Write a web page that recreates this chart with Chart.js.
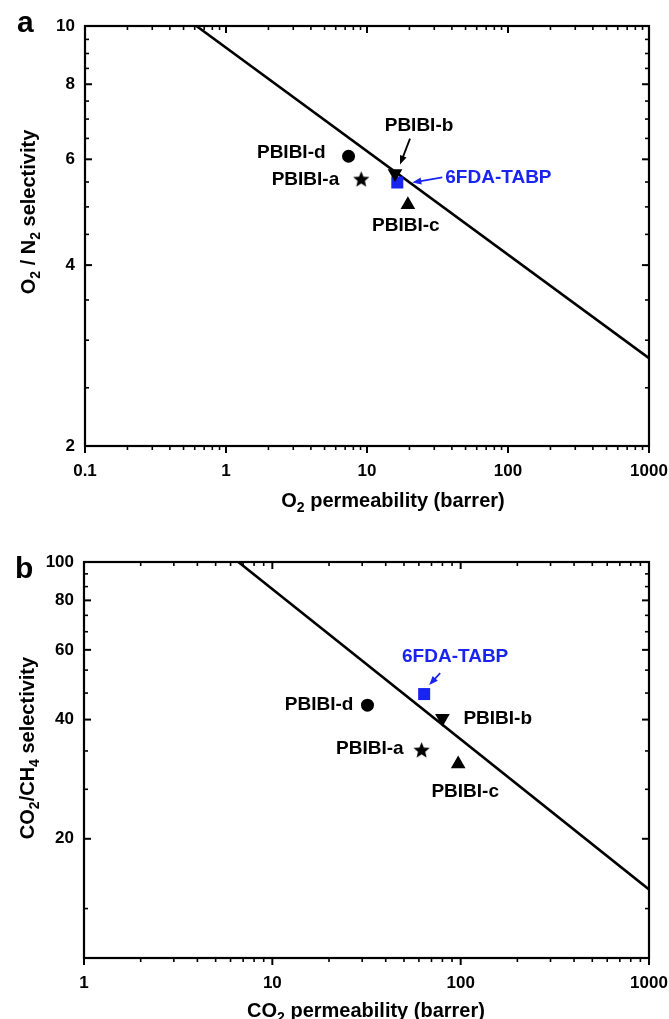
<!DOCTYPE html>
<html>
<head>
<meta charset="utf-8">
<script src="https://cdn.jsdelivr.net/npm/chart.js@4.4.0/dist/chart.umd.min.js"></script>
<style>
  html, body { margin: 0; padding: 0; background: #fff; }
  #wrap { position: relative; width: 669px; height: 1019px; }
  .panel { position: absolute; left: 0; width: 669px; }
  #panelA { top: 0; height: 515px; }
  #panelB { top: 515px; height: 504px; }
</style>
</head>
<body>
<div id="wrap">
  <div class="panel" id="panelA"><canvas id="chartA"></canvas></div>
  <div class="panel" id="panelB"><canvas id="chartB"></canvas></div>
</div>
<script>
// values
const membranes = ['PBIBI-a', 'PBIBI-b', 'PBIBI-c', 'PBIBI-d', '6FDA-TABP'];
const o2Perm    = [9.1, 15.8, 19.5, 7.4, 16.4];
const o2n2Sel   = [5.57, 5.68, 5.04, 6.07, 5.49];
const co2Perm   = [62, 80, 97, 32, 64];
const co2ch4Sel = [33.6, 40.3, 30.9, 43.5, 46.4];

// upper bound lines (end points)
const o2BoundPerm  = [0.617, 1000];
const o2BoundSel   = [10, 2.80];
const co2BoundPerm = [6.6, 1000];
const co2BoundSel  = [100, 14.9];

// axis ticks
const o2PermTicks  = [0.1, 1, 10, 100, 1000];
const o2n2Ticks    = [2, 4, 6, 8, 10];
const o2n2Minor    = [2.5, 3, 3.5, 4.5, 5, 5.5, 6.5, 7, 7.5, 8.5, 9, 9.5];
const co2PermTicks = [1, 10, 100, 1000];
const co2ch4Ticks  = [20, 40, 60, 80, 100];
const co2ch4Minor  = [13.33, 26.67, 33.33, 46.67, 53.33, 66.67, 73.33, 86.67, 93.33];

const BLUE = '#1a24f0';
const FONT = '"Liberation Sans", Arial, Helvetica, sans-serif';
Chart.defaults.font.family = FONT;

// 2..9 within each decade
function decadeMinors(majors) {
    const out = [];
    for (let i = 0; i < majors.length - 1; i++)
        for (let m = 2; m <= 9; m++) out.push(majors[i] * m);
    return out;
}

function starImage(r, color) {
    const c = document.createElement('canvas');
    const s = Math.ceil(r * 2 + 2);
    c.width = c.height = s;
    const g = c.getContext('2d');
    g.fillStyle = color;
    g.beginPath();
    for (let i = 0; i < 10; i++) {
        const rr = i % 2 ? r * 0.45 : r;
        const a = -Math.PI / 2 + i * Math.PI / 5;
        g.lineTo(s / 2 + rr * Math.cos(a), s / 2 + 1 + rr * Math.sin(a));
    }
    g.closePath();
    g.fill();
    return c;
}

const markers = {
    'PBIBI-a':   { style: starImage(8.5, '#000'), radius: 8, rot: 0, color: '#000' },
    'PBIBI-b':   { style: 'triangle', radius: 8.5, rot: 180, color: '#000' },
    'PBIBI-c':   { style: 'triangle', radius: 8.5, rot: 0, color: '#000' },
    'PBIBI-d':   { style: 'circle', radius: 6.5, rot: 0, color: '#000' },
    '6FDA-TABP': { style: 'rect', radius: 8.5, rot: 0, color: BLUE }
};

// text drawn with subscripts: [text, isSub]
function drawRich(ctx, parts, cx, cy, size, rot) {
    ctx.save();
    ctx.translate(cx, cy);
    ctx.rotate(rot || 0);
    ctx.fillStyle = '#000';
    ctx.textBaseline = 'alphabetic';
    ctx.textAlign = 'left';
    const fonts = parts.map(p => 'bold ' + (p[1] ? size * 0.7 : size) + 'px ' + FONT);
    let total = 0;
    const widths = parts.map((p, i) => { ctx.font = fonts[i]; const w = ctx.measureText(p[0]).width; total += w; return w; });
    let x = -total / 2;
    const base = size * 0.36;
    parts.forEach((p, i) => {
        ctx.font = fonts[i];
        ctx.fillText(p[0], x, p[1] ? base + size * 0.25 : base);
        x += widths[i];
    });
    ctx.restore();
}

function drawArrow(ctx, x1, y1, x2, y2, color) {
    const ang = Math.atan2(y2 - y1, x2 - x1);
    const hl = 9, hw = 3.5;
    ctx.save();
    ctx.strokeStyle = color;
    ctx.fillStyle = color;
    ctx.lineWidth = 1.8;
    ctx.beginPath();
    ctx.moveTo(x1, y1);
    ctx.lineTo(x2 - Math.cos(ang) * hl * 0.8, y2 - Math.sin(ang) * hl * 0.8);
    ctx.stroke();
    ctx.beginPath();
    ctx.moveTo(x2, y2);
    ctx.lineTo(x2 - Math.cos(ang) * hl + Math.sin(ang) * hw, y2 - Math.sin(ang) * hl - Math.cos(ang) * hw);
    ctx.lineTo(x2 - Math.cos(ang) * hl - Math.sin(ang) * hw, y2 - Math.sin(ang) * hl + Math.cos(ang) * hw);
    ctx.closePath();
    ctx.fill();
    ctx.restore();
}

const decor = {
    id: 'decor',
    afterDraw(chart, args, o) {
        const { ctx, chartArea: a, scales: { x, y } } = chart;
        ctx.save();
        ctx.strokeStyle = '#000';
        const line = (x1, y1, x2, y2, w) => {
            ctx.lineWidth = w;
            ctx.beginPath(); ctx.moveTo(x1, y1); ctx.lineTo(x2, y2); ctx.stroke();
        };
        // ticks: bottom outward, others inward
        o.xTicks.forEach(v => {
            const p = x.getPixelForValue(v);
            line(p, a.bottom, p, a.bottom + 7, 2);
            line(p, a.top, p, a.top + 7, 2);
        });
        decadeMinors(o.xTicks).forEach(v => {
            const p = x.getPixelForValue(v);
            line(p, a.bottom, p, a.bottom + 4, 1.6);
            line(p, a.top, p, a.top + 4, 1.6);
        });
        o.yTicks.forEach(v => {
            const p = y.getPixelForValue(v);
            line(a.left, p, a.left + 7, p, 2);
            line(a.right, p, a.right - 7, p, 2);
        });
        o.yMinor.forEach(v => {
            const p = y.getPixelForValue(v);
            line(a.left, p, a.left + 4, p, 1.6);
            line(a.right, p, a.right - 4, p, 1.6);
        });
        ctx.lineWidth = 2.2;
        ctx.strokeRect(a.left, a.top, a.right - a.left, a.bottom - a.top);
        ctx.restore();

        // axis titles
        drawRich(ctx, o.xTitle, o.xTitlePos[0], o.xTitlePos[1], 20, 0);
        drawRich(ctx, o.yTitle, o.yTitlePos[0], o.yTitlePos[1], 20, -Math.PI / 2);

        // panel letter
        ctx.save();
        ctx.font = 'bold 30px ' + FONT;
        ctx.fillStyle = '#000';
        ctx.textBaseline = 'alphabetic';
        ctx.fillText(o.letter, o.letterPos[0], o.letterPos[1]);
        ctx.restore();

        // point labels and arrows
        ctx.save();
        ctx.font = 'bold 19px ' + FONT;
        ctx.textBaseline = 'middle';
        membranes.forEach((name, i) => {
            const el = chart.getDatasetMeta(i).data[0];
            const lb = o.labels[name];
            ctx.fillStyle = lb.color || '#000';
            ctx.textAlign = lb.align;
            ctx.fillText(name, el.x + lb.dx, el.y + lb.dy);
        });
        ctx.restore();
        o.arrows.forEach(ar => {
            const el = chart.getDatasetMeta(membranes.indexOf(ar.name)).data[0];
            drawArrow(ctx, el.x + ar.from[0], el.y + ar.from[1], el.x + ar.to[0], el.y + ar.to[1], ar.color);
        });
    }
};

function makeChart(id, cfg) {
    const datasets = membranes.map((name, i) => {
        const m = markers[name];
        return {
            label: name,
            data: [{ x: cfg.perm[i], y: cfg.sel[i] }],
            pointStyle: m.style,
            pointRadius: m.radius,
            pointRotation: m.rot,
            pointBackgroundColor: m.color,
            pointBorderColor: m.color,
            pointBorderWidth: 0,
            showLine: false
        };
    });
    datasets.push({
        label: 'upper bound',
        data: cfg.boundPerm.map((v, i) => ({ x: v, y: cfg.boundSel[i] })),
        showLine: true,
        borderColor: '#000',
        borderWidth: 2.6,
        pointRadius: 0
    });

    const tickFont = { size: 17, weight: 'bold', family: FONT };
    const noPad = s => { s.paddingLeft = 0; s.paddingRight = 0; s.paddingTop = 0; s.paddingBottom = 0; };
    return new Chart(document.getElementById(id), {
        type: 'scatter',
        data: { datasets },
        options: {
            responsive: true,
            maintainAspectRatio: false,
            animation: false,
            events: [],
            layout: { padding: { top: cfg.top, right: 20, left: 0, bottom: 0 }, autoPadding: false },
            plugins: {
                legend: { display: false },
                tooltip: { enabled: false },
                decor: cfg.decor
            },
            scales: {
                x: {
                    type: 'logarithmic', min: cfg.xMin, max: cfg.xMax,
                    grid: { display: false, drawTicks: false },
                    border: { display: false },
                    afterBuildTicks: s => { s.ticks = cfg.decor.xTicks.map(v => ({ value: v })); },
                    afterFit: s => { s.height = cfg.xHeight; noPad(s); },
                    ticks: { callback: v => String(v), font: tickFont, color: '#000', padding: 15, maxRotation: 0, autoSkip: false }
                },
                y: {
                    type: 'logarithmic', min: cfg.yMin, max: cfg.yMax,
                    grid: { display: false, drawTicks: false },
                    border: { display: false },
                    afterBuildTicks: s => { s.ticks = cfg.decor.yTicks.map(v => ({ value: v })); },
                    afterFit: s => { s.width = cfg.yWidth; noPad(s); },
                    ticks: { callback: v => String(v), font: tickFont, color: '#000', padding: 10, autoSkip: false }
                }
            }
        },
        plugins: [decor]
    });
}

makeChart('chartA', {
    perm: o2Perm, sel: o2n2Sel,
    boundPerm: o2BoundPerm, boundSel: o2BoundSel,
    xMin: 0.1, xMax: 1000, yMin: 2, yMax: 10,
    top: 26, yWidth: 85, xHeight: 69,
    decor: {
        xTicks: o2PermTicks, yTicks: o2n2Ticks, yMinor: o2n2Minor,
        xTitle: [['O', 0], ['2', 1], [' permeability (barrer)', 0]],
        xTitlePos: [393, 500],
        yTitle: [['O', 0], ['2', 1], [' / N', 0], ['2', 1], [' selectivity', 0]],
        yTitlePos: [28, 212],
        letter: 'a', letterPos: [17, 32],
        labels: {
            'PBIBI-a':   { dx: -22, dy: 1, align: 'right' },
            'PBIBI-b':   { dx: 24, dy: -48, align: 'center' },
            'PBIBI-c':   { dx: -2, dy: 21, align: 'center' },
            'PBIBI-d':   { dx: -23, dy: -4, align: 'right' },
            '6FDA-TABP': { dx: 48, dy: -5, align: 'left', color: BLUE }
        },
        arrows: [
            { name: 'PBIBI-b', from: [15, -35], to: [5, -9], color: '#000' },
            { name: '6FDA-TABP', from: [45, -5], to: [15, 0], color: BLUE }
        ]
    }
});

makeChart('chartB', {
    perm: co2Perm, sel: co2ch4Sel,
    boundPerm: co2BoundPerm, boundSel: co2BoundSel,
    xMin: 1, xMax: 1000, yMin: 10, yMax: 100,
    top: 47, yWidth: 84, xHeight: 61,
    decor: {
        xTicks: co2PermTicks, yTicks: co2ch4Ticks, yMinor: co2ch4Minor,
        xTitle: [['CO', 0], ['2', 1], [' permeability (barrer)', 0]],
        xTitlePos: [366, 495],
        yTitle: [['CO', 0], ['2', 1], ['/CH', 0], ['4', 1], [' selectivity', 0]],
        yTitlePos: [27, 233],
        letter: 'b', letterPos: [15, 63],
        labels: {
            'PBIBI-a':   { dx: -18, dy: -1, align: 'right' },
            'PBIBI-b':   { dx: 21, dy: 0, align: 'left' },
            'PBIBI-c':   { dx: 7, dy: 28, align: 'center' },
            'PBIBI-d':   { dx: -14, dy: 0, align: 'right' },
            '6FDA-TABP': { dx: 31, dy: -37, align: 'center', color: BLUE }
        },
        arrows: [
            { name: '6FDA-TABP', from: [16, -21], to: [5, -9], color: BLUE }
        ]
    }
});
</script>
</body>
</html>
